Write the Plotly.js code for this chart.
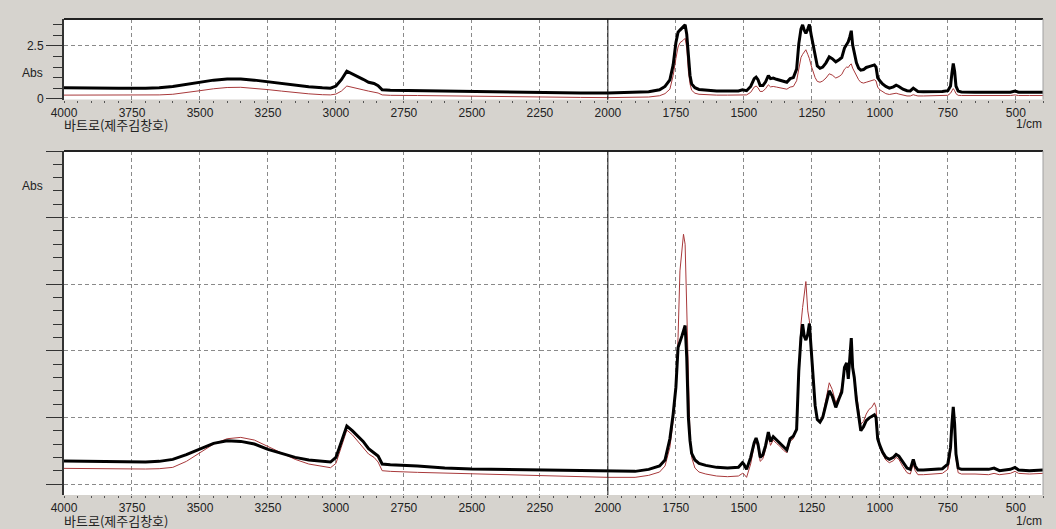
<!DOCTYPE html>
<html>
<head>
<meta charset="utf-8">
<script src="https://cdn.plot.ly/plotly-3.0.1.min.js"></script>
<style>
html,body{margin:0;padding:0;background:#d6d3ce;}
#chart{width:1056px;height:529px;}
</style>
</head>
<body>
<div id="chart"></div>
<script>
// Wavenumber grid (1/cm)
const wavenumber = [4000,3900,3800,3700,3650,3600,3550,3500,3450,3400,
 3350,3300,3250,3200,3150,3100,3050,3020,3000,2980,
 2960,2940,2920,2900,2880,2860,2845,2830,2800,2700,
 2600,2500,2400,2300,2200,2100,2000,1900,1850,1810,
 1790,1772,1760,1750,1742,1735,1728,1722,1716,1710,
 1704,1698,1692,1680,1665,1640,1600,1560,1520,1505,
 1500,1490,1475,1462,1455,1448,1440,1430,1420,1410,
 1402,1392,1380,1368,1355,1342,1330,1318,1306,1298,
 1290,1284,1278,1272,1265,1259,1252,1245,1238,1230,
 1220,1210,1198,1186,1175,1162,1150,1140,1130,1122,
 1116,1110,1105,1100,1094,1086,1078,1070,1060,1050,
 1040,1030,1020,1014,1008,1000,990,978,965,950,
 940,930,915,900,888,877,870,860,840,800,
 770,750,740,735,730,725,720,712,700,650,
 600,580,560,520,503,490,450,400];

// Upper panel (absolute absorbance)
const blackTop = [0.52,0.50,0.50,0.50,0.52,0.58,0.68,0.78,0.88,0.93,
 0.93,0.88,0.80,0.72,0.64,0.57,0.52,0.50,0.60,0.90,
 1.30,1.18,1.05,0.92,0.78,0.72,0.62,0.42,0.40,0.38,
 0.36,0.34,0.30,0.28,0.27,0.27,0.27,0.29,0.33,0.42,
 0.58,0.89,1.60,2.65,3.15,3.25,3.35,3.42,3.50,3.05,
 1.80,1.10,0.70,0.52,0.44,0.40,0.37,0.36,0.37,0.42,
 0.40,0.38,0.58,0.95,1.02,0.90,0.62,0.62,0.80,1.10,
 0.95,0.98,0.92,0.88,0.82,0.78,0.95,1.00,1.40,2.60,
 3.30,3.50,3.25,3.10,3.30,3.52,3.00,2.55,2.00,1.55,
 1.44,1.50,1.70,1.98,1.90,1.75,1.85,1.95,2.40,2.60,
 2.70,2.95,3.22,2.55,2.20,1.70,1.45,1.35,1.38,1.48,
 1.52,1.55,1.60,1.50,1.00,0.85,0.70,0.58,0.50,0.56,
 0.64,0.58,0.45,0.38,0.37,0.50,0.42,0.34,0.33,0.33,
 0.34,0.38,0.60,1.20,1.67,1.30,0.60,0.36,0.32,0.31,
 0.31,0.33,0.30,0.31,0.36,0.31,0.30,0.30];

const redTop = [0.17,0.17,0.17,0.17,0.18,0.21,0.28,0.38,0.47,0.53,
 0.54,0.50,0.43,0.36,0.28,0.23,0.19,0.18,0.22,0.36,
 0.60,0.55,0.47,0.42,0.36,0.32,0.27,0.18,0.16,0.15,
 0.13,0.11,0.09,0.07,0.06,0.06,0.05,0.06,0.08,0.14,
 0.24,0.45,1.10,1.90,2.45,2.65,2.70,2.78,2.86,2.40,
 1.30,0.70,0.40,0.26,0.21,0.19,0.17,0.17,0.17,0.20,
 0.19,0.18,0.30,0.55,0.60,0.52,0.34,0.35,0.48,0.66,
 0.56,0.58,0.55,0.52,0.48,0.45,0.55,0.58,0.85,1.50,
 1.95,2.10,2.20,2.32,2.10,1.90,1.55,1.25,1.00,0.82,
 0.78,0.84,0.98,1.18,1.12,0.98,1.05,1.15,1.40,1.50,
 1.48,1.60,1.65,1.45,1.30,1.12,0.90,0.78,0.74,0.78,
 0.82,0.85,0.90,0.84,0.55,0.42,0.32,0.24,0.20,0.22,
 0.26,0.22,0.16,0.13,0.13,0.19,0.16,0.13,0.13,0.13,
 0.14,0.16,0.26,0.40,0.48,0.38,0.24,0.16,0.15,0.15,
 0.14,0.15,0.14,0.15,0.18,0.15,0.15,0.15];

// Lower panel (normalised view, arbitrary units)
const blackBottom = [0.345,0.34,0.335,0.33,0.34,0.37,0.44,0.53,0.61,0.65,
 0.64,0.60,0.52,0.46,0.40,0.36,0.34,0.33,0.40,0.62,
 0.87,0.80,0.72,0.64,0.53,0.47,0.42,0.30,0.29,0.27,
 0.24,0.225,0.22,0.215,0.21,0.205,0.20,0.19,0.22,0.27,
 0.36,0.68,1.05,1.45,2.05,2.12,2.22,2.30,2.38,1.90,
 1.00,0.65,0.46,0.36,0.31,0.28,0.25,0.24,0.25,0.32,
 0.30,0.22,0.40,0.62,0.69,0.60,0.40,0.44,0.58,0.78,
 0.64,0.71,0.66,0.62,0.56,0.51,0.68,0.72,0.82,1.70,
 2.20,2.40,2.22,2.16,2.25,2.41,2.00,1.60,1.18,0.97,
 0.93,1.00,1.18,1.40,1.32,1.15,1.28,1.38,1.75,1.82,
 1.58,1.95,2.19,1.75,1.60,1.26,1.00,0.80,0.86,0.95,
 0.99,1.02,1.04,1.00,0.68,0.58,0.48,0.40,0.37,0.40,
 0.445,0.42,0.32,0.24,0.22,0.37,0.27,0.21,0.21,0.22,
 0.23,0.30,0.55,0.90,1.16,0.90,0.45,0.24,0.22,0.22,
 0.22,0.24,0.20,0.22,0.25,0.21,0.20,0.21];

const redBottom = [0.235,0.23,0.225,0.225,0.23,0.25,0.34,0.47,0.60,0.68,
 0.70,0.66,0.56,0.47,0.37,0.30,0.26,0.245,0.31,0.55,
 0.81,0.74,0.64,0.55,0.45,0.40,0.33,0.20,0.19,0.175,
 0.165,0.155,0.14,0.125,0.12,0.11,0.10,0.10,0.13,0.18,
 0.27,0.55,0.95,1.45,2.20,3.20,3.55,3.75,3.60,2.60,
 1.45,0.70,0.40,0.24,0.18,0.15,0.12,0.11,0.12,0.16,
 0.15,0.10,0.30,0.58,0.64,0.55,0.34,0.38,0.52,0.72,
 0.58,0.66,0.61,0.57,0.51,0.47,0.64,0.68,0.85,1.75,
 2.40,2.65,2.85,3.04,2.60,2.45,2.10,1.65,1.20,0.98,
 0.95,1.03,1.25,1.52,1.42,1.22,1.32,1.45,1.75,1.78,
 1.65,1.85,2.02,1.75,1.62,1.35,1.08,0.90,0.94,1.05,
 1.12,1.15,1.22,1.15,0.70,0.55,0.45,0.36,0.32,0.35,
 0.40,0.37,0.26,0.17,0.15,0.30,0.20,0.14,0.14,0.15,
 0.16,0.22,0.45,0.82,1.05,0.80,0.38,0.17,0.15,0.15,
 0.14,0.16,0.14,0.16,0.19,0.16,0.15,0.16];

const sampleLabel = '바트로(제주김창호)';
const unitLabel = '1/cm';
const yLabel = 'Abs';
const markerLine = 2000;

const W = 1056, H = 529;
const px = v => v / W;
const py = v => 1 - v / H;

const redColor = '#a8393b';
const blackColor = '#000000';
const numFont = {family: 'Liberation Sans, Arial, sans-serif', size: 12, color: '#222'};
const krFont = {family: 'Noto Sans CJK KR, sans-serif', size: 13, color: '#222'};

const traces = [
  {x: wavenumber, y: redTop, xaxis: 'x', yaxis: 'y', type: 'scatter', mode: 'lines',
   line: {color: redColor, width: 1}},
  {x: wavenumber, y: blackTop, xaxis: 'x', yaxis: 'y', type: 'scatter', mode: 'lines',
   line: {color: blackColor, width: 3}},
  {x: wavenumber, y: redBottom, xaxis: 'x2', yaxis: 'y2', type: 'scatter', mode: 'lines',
   line: {color: redColor, width: 1}},
  {x: wavenumber, y: blackBottom, xaxis: 'x2', yaxis: 'y2', type: 'scatter', mode: 'lines',
   line: {color: blackColor, width: 3}}
];

const xCommon = {
  domain: [px(64), px(1043)],
  range: [4000, 400],
  tick0: 0, dtick: 250,
  showgrid: true, gridcolor: '#8a8a8a', griddash: '4px,3px', gridwidth: 1,
  zeroline: false, showline: false,
  ticks: 'outside', ticklen: 2, tickcolor: '#555', tickwidth: 1,
  minor: {dtick: 50, ticks: 'outside', ticklen: 2, tickcolor: '#555', showgrid: false},
  tickfont: numFont,
  fixedrange: true
};

const layout = {
  width: W, height: H,
  margin: {l: 0, r: 0, t: 0, b: 0},
  paper_bgcolor: '#d6d3ce',
  plot_bgcolor: '#ffffff',
  showlegend: false,
  hovermode: false,
  xaxis: Object.assign({}, xCommon, {anchor: 'y'}),
  xaxis2: Object.assign({}, xCommon, {anchor: 'y2'}),
  yaxis: {
    domain: [py(99.5), py(19)],
    range: [-0.038, 3.777],
    tick0: 0, dtick: 2.5,
    showgrid: true, gridcolor: '#8a8a8a', griddash: '4px,3px',
    zeroline: false,
    showline: true, linecolor: '#333', linewidth: 2,
    ticks: 'outside', ticklen: 16, tickcolor: '#333', tickwidth: 1,
    minor: {dtick: 0.5, ticks: 'outside', ticklen: 9, tickcolor: '#333', showgrid: false},
    tickfont: numFont,
    fixedrange: true
  },
  yaxis2: {
    domain: [py(495), py(151)],
    range: [-0.165, 5.0],
    tick0: 0, dtick: 1,
    showgrid: true, gridcolor: '#8a8a8a', griddash: '4px,3px',
    zeroline: false,
    showline: true, linecolor: '#333', linewidth: 2,
    ticks: 'outside', ticklen: 16, tickcolor: '#333', tickwidth: 1,
    minor: {dtick: 0.2, ticks: 'outside', ticklen: 9, tickcolor: '#333', showgrid: false},
    showticklabels: false,
    fixedrange: true
  },
  shapes: [
    {type: 'line', xref: 'x domain', yref: 'y domain', x0: 0, x1: 1, y0: 1, y1: 1, line: {color: '#222', width: 2}},
    {type: 'line', xref: 'x domain', yref: 'y domain', x0: 1, x1: 1, y0: 0, y1: 1, line: {color: '#a0a0a0', width: 1}},
    {type: 'line', xref: 'x2 domain', yref: 'y2 domain', x0: 0, x1: 1, y0: 1, y1: 1, line: {color: '#222', width: 2}},
    {type: 'line', xref: 'x2 domain', yref: 'y2 domain', x0: 1, x1: 1, y0: 0, y1: 1, line: {color: '#a0a0a0', width: 1}},
    {type: 'line', xref: 'x', yref: 'y domain', x0: markerLine, x1: markerLine, y0: 0, y1: 1, line: {color: '#111', width: 1}},
    {type: 'line', xref: 'x2', yref: 'y2 domain', x0: markerLine, x1: markerLine, y0: 0, y1: 1, line: {color: '#111', width: 1}}
  ],
  annotations: [
    {text: yLabel, xref: 'paper', yref: 'paper', x: px(32), y: py(73), xanchor: 'center', yanchor: 'middle', showarrow: false, font: numFont},
    {text: yLabel, xref: 'paper', yref: 'paper', x: px(32), y: py(186), xanchor: 'center', yanchor: 'middle', showarrow: false, font: numFont},
    {text: sampleLabel, xref: 'paper', yref: 'paper', x: px(62), y: py(124), xanchor: 'left', yanchor: 'middle', showarrow: false, font: krFont},
    {text: sampleLabel, xref: 'paper', yref: 'paper', x: px(62), y: py(520), xanchor: 'left', yanchor: 'middle', showarrow: false, font: krFont},
    {text: unitLabel, xref: 'paper', yref: 'paper', x: px(1044), y: py(124), xanchor: 'right', yanchor: 'middle', showarrow: false, font: numFont},
    {text: unitLabel, xref: 'paper', yref: 'paper', x: px(1044), y: py(521), xanchor: 'right', yanchor: 'middle', showarrow: false, font: numFont}
  ]
};

Plotly.newPlot('chart', traces, layout, {displayModeBar: false, staticPlot: true});
</script>
</body>
</html>
